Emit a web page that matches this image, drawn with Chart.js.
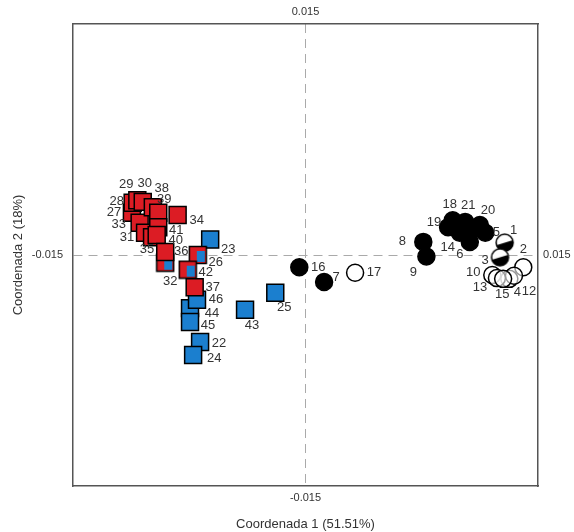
<!DOCTYPE html>
<html>
<head>
<meta charset="utf-8">
<script src="https://cdn.jsdelivr.net/npm/chart.js@4/dist/chart.umd.min.js"></script>
<style>
  body { margin: 0; background: #fff; }
  #wrap { width: 574px; height: 532px; }
</style>
</head>
<body>
<div id="wrap"><canvas id="pcoaChart" width="574" height="532"></canvas></div>
<script>
// PCoA coordinates (Coordenada 1, Coordenada 2)
const blackIds = [5, 6, 7, 8, 9, 11, 14, 16, 18, 19, 20, 21];
const blackX = [0.0232, 0.0212, 0.0024, 0.0152, 0.0156, 0.0215, 0.0199, -0.0008, 0.0190, 0.0184, 0.0225, 0.0206];
const blackY = [0.0029, 0.0017, -0.0035, 0.0017, -0.0002, 0.0033, 0.0029, -0.0016, 0.0045, 0.0036, 0.0039, 0.0043];

const openIds = [2, 4, 10, 12, 13, 15, 17];
const openX = [0.0281, 0.0263, 0.0241, 0.0269, 0.0247, 0.0255, 0.0064];
const openY = [-0.0016, -0.0031, -0.0026, -0.0027, -0.0030, -0.0031, -0.0023];

const halfIds = [1, 3];
const halfX = [0.0257, 0.0251];
const halfY = [0.0016, -0.0003];

const redIds = [27, 28, 29, 30, 33, 31, 35, 38, 39, 41, 40, 34, 36, 37];
const redX = [-0.0224, -0.0223, -0.0217, -0.0210, -0.0214, -0.0207, -0.0198, -0.0197, -0.0190, -0.0190, -0.0192, -0.0165, -0.0181, -0.0143];
const redY = [0.0055, 0.0068, 0.0071, 0.0069, 0.0042, 0.0029, 0.0023, 0.0062, 0.0055, 0.0036, 0.0026, 0.0052, 0.0004, -0.0042];

const mixedIds = [26, 32, 42];
const mixedX = [-0.0139, -0.0181, -0.0152];
const mixedY = [0.0000, -0.0010, -0.0019];

const blueIds = [22, 23, 24, 25, 43, 44, 45, 46];
const blueX = [-0.0136, -0.0123, -0.0145, -0.0039, -0.0078, -0.0149, -0.0149, -0.0140];
const blueY = [-0.0113, 0.0020, -0.0130, -0.0049, -0.0071, -0.0069, -0.0087, -0.0058];

// where each sample number sits relative to its marker (px)
const labelOffsets = {
  27: [-18, 0], 28: [-16, -1], 29: [-11, -16], 30: [2, -18], 38: [9, -19], 39: [6, -13],
  33: [-21, 2], 31: [-18, 5], 35: [-5, 12], 40: [19, 5], 41: [18, 3], 34: [19, 5],
  36: [16, 0], 32: [5, 19], 26: [18, 7], 42: [18, 3], 37: [18, 0], 23: [18, 10],
  46: [19, 0], 44: [22, 5], 45: [18, 3], 22: [19, 1], 24: [21, 3], 43: [7, 16], 25: [9, 15],
  16: [19, 0], 7: [12, -5], 17: [19, 0], 8: [-21, 0], 9: [-13, 16], 18: [-3, -16],
  21: [3, -16], 20: [8, -15], 19: [-14, -5], 14: [-12, 15], 6: [-10, 13], 5: [11, 0],
  1: [9, -12], 3: [-15, 3], 2: [0, -18], 10: [-19, -3], 13: [-17, 9], 15: [-1, 16],
  4: [8, 14], 12: [15, 16]
};

const RED = '#dc1c24';
const BLUE = '#1b7fcf';
const FONT = "'Liberation Sans', Arial, sans-serif";

function pts(xs, ys) {
  return xs.map((x, i) => ({ x: x, y: ys[i] }));
}

// half filled circle marker
function halfCircle() {
  const c = document.createElement('canvas');
  c.width = 21; c.height = 21;
  const g = c.getContext('2d');
  g.beginPath(); g.arc(10.5, 10.5, 8.5, 0, Math.PI * 2); g.fillStyle = '#fff'; g.fill();
  g.beginPath(); g.arc(10.5, 10.5, 8.5, -0.3, Math.PI - 0.3); g.fillStyle = '#000'; g.fill();
  g.beginPath(); g.arc(10.5, 10.5, 8.5, 0, Math.PI * 2); g.lineWidth = 1.5; g.strokeStyle = '#000'; g.stroke();
  return c;
}

// red square with a blue part
function mixedSquare() {
  const c = document.createElement('canvas');
  c.width = 20; c.height = 20;
  const g = c.getContext('2d');
  g.fillStyle = RED; g.fillRect(1.5, 1.5, 17, 17);
  g.fillStyle = BLUE; g.fillRect(9, 6, 8, 11);
  g.lineWidth = 1.5; g.strokeStyle = '#000'; g.strokeRect(1.5, 1.5, 17, 17);
  return c;
}

const allIds = [redIds, mixedIds, blueIds, blackIds, openIds, halfIds];

const pointLabels = {
  id: 'pointLabels',
  afterDatasetsDraw(chart) {
    const ctx = chart.ctx;
    ctx.save();
    ctx.font = '13px ' + FONT;
    ctx.fillStyle = '#333';
    ctx.textAlign = 'center';
    ctx.textBaseline = 'middle';
    chart.data.datasets.forEach((ds, di) => {
      const meta = chart.getDatasetMeta(di);
      meta.data.forEach((el, i) => {
        const id = allIds[di][i];
        const off = labelOffsets[id];
        if (!off) return;
        ctx.fillText(String(id), el.x + off[0], el.y + off[1]);
      });
    });
    ctx.restore();
  }
};

const tickFont = { family: FONT, size: 11 };
function oneTick(scale) { scale.ticks = [{ value: 0 }]; }

const ctx = document.getElementById('pcoaChart').getContext('2d');
const chart = new Chart(ctx, {
  type: 'scatter',
  data: {
    datasets: [
      { data: pts(redX, redY), pointStyle: 'rect', radius: 12, backgroundColor: RED, borderColor: '#000', borderWidth: 1.5 },
      { data: pts(mixedX, mixedY), pointStyle: mixedSquare(), radius: 12 },
      { data: pts(blueX, blueY), pointStyle: 'rect', radius: 12, backgroundColor: BLUE, borderColor: '#000', borderWidth: 1.5 },
      { data: pts(blackX, blackY), pointStyle: 'circle', radius: 8.5, backgroundColor: '#000', borderColor: '#000', borderWidth: 1.5 },
      { data: pts(openX, openY), pointStyle: 'circle', radius: 8.5, backgroundColor: 'rgba(255,255,255,0.6)', borderColor: '#000', borderWidth: 1.5 },
      { data: pts(halfX, halfY), pointStyle: halfCircle(), radius: 9 }
    ]
  },
  options: {
    responsive: false,
    animation: false,
    devicePixelRatio: 1,
    layout: { padding: 0 },
    plugins: {
      legend: { display: false },
      tooltip: { enabled: false }
    },
    scales: {
      x: {
        type: 'linear', position: 'bottom', min: -0.03, max: 0.03,
        afterBuildTicks: oneTick,
        afterFit: s => { s.height = 46; },
        ticks: { callback: () => '-0.015', font: tickFont, color: '#333', padding: 5, maxRotation: 0 },
        grid: { color: '#aaa', lineWidth: 1, drawTicks: false },
        border: { color: '#555', width: 1.5, dash: [9, 6] },
        title: { display: true, text: 'Coordenada 1 (51.51%)', font: { family: FONT, size: 13 }, color: '#333', padding: { top: 2, bottom: 0 } }
      },
      x2: {
        type: 'linear', position: 'top', min: -0.03, max: 0.03,
        afterBuildTicks: oneTick,
        afterFit: s => { s.height = 24; },
        ticks: { callback: () => '0.015', font: tickFont, color: '#333', padding: 5, maxRotation: 0 },
        grid: { display: false, drawTicks: false },
        border: { color: '#555', width: 1.5 }
      },
      y: {
        type: 'linear', position: 'left', min: -0.03, max: 0.03,
        afterBuildTicks: oneTick,
        afterFit: s => { s.width = 73; },
        ticks: { callback: () => '-0.015', font: tickFont, color: '#333', padding: 10 },
        grid: { color: '#aaa', lineWidth: 1, drawTicks: false },
        border: { color: '#555', width: 1.5, dash: [9, 6] },
        title: { display: true, text: 'Coordenada 2 (18%)', font: { family: FONT, size: 13 }, color: '#333', padding: { top: 11, bottom: 0 } }
      },
      y2: {
        type: 'linear', position: 'right', min: -0.03, max: 0.03,
        afterBuildTicks: oneTick,
        afterFit: s => { s.width = 36; },
        ticks: { callback: () => '0.015', font: tickFont, color: '#333', padding: 5 },
        grid: { display: false, drawTicks: false },
        border: { color: '#555', width: 1.5 }
      }
    }
  },
  plugins: [pointLabels]
});
</script>
</body>
</html>
